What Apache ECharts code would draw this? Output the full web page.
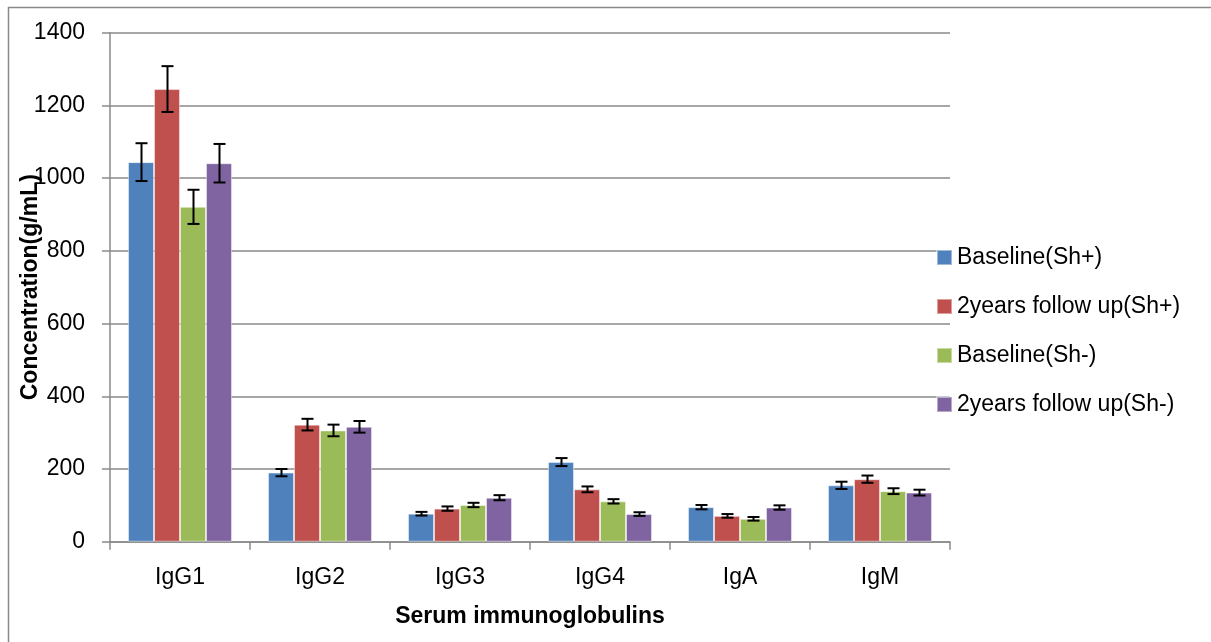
<!DOCTYPE html>
<html>
<head>
<meta charset="utf-8">
<script src="https://cdn.jsdelivr.net/npm/echarts@6/dist/echarts.min.js"></script>
<style>
html,body{margin:0;padding:0;background:#fff;}
#chart{width:1211px;height:642px;}
</style>
</head>
<body>
<div id="chart"></div>
<script>
var categories = ['IgG1', 'IgG2', 'IgG3', 'IgG4', 'IgA', 'IgM'];
var seriesNames = ['Baseline(Sh+)', '2years follow up(Sh+)', 'Baseline(Sh-)', '2years follow up(Sh-)'];
var baselineShPlus = [1044, 190, 77, 219, 95, 155];
var followUpShPlus = [1245, 322, 91, 144, 71, 172];
var baselineShMinus = [921, 306, 101, 111, 63, 139];
var followUpShMinus = [1041, 316, 121, 76, 94, 135];
var errBaselineShPlus = [52, 10, 5, 11, 6, 10];
var errFollowUpShPlus = [63, 16, 6, 8, 5, 10];
var errBaselineShMinus = [47, 16, 6, 6, 5, 8];
var errFollowUpShMinus = [53, 16, 7, 5, 6, 8];
var yTicks = [0, 200, 400, 600, 800, 1000, 1200, 1400];

var colors = ['#4F81BD', '#C0504D', '#9BBB59', '#8064A2'];
var values = [baselineShPlus, followUpShPlus, baselineShMinus, followUpShMinus];
var errors = [errBaselineShPlus, errFollowUpShPlus, errBaselineShMinus, errFollowUpShMinus];
var BAR_W = 26;
var FONT = 'Liberation Sans, Arial, sans-serif';
var FS = 23;

var series = [];
values.forEach(function (vals, i) {
  series.push({
    name: seriesNames[i],
    type: 'bar',
    data: vals,
    barWidth: BAR_W,
    barGap: '0%',
    itemStyle: { color: colors[i], borderColor: 'rgba(255,255,255,0.45)', borderWidth: 1 },
    z: 2
  });
});
values.forEach(function (vals, i) {
  var data = vals.map(function (v, k) { return [k, v - errors[i][k], v + errors[i][k]]; });
  var offset = (i - 1.5) * BAR_W;
  series.push({
    name: 'err' + i,
    type: 'custom',
    data: data,
    z: 5,
    silent: true,
    encode: { x: 0, y: [1, 2] },
    renderItem: function (params, api) {
      var lo = api.coord([api.value(0), api.value(1)]);
      var hi = api.coord([api.value(0), api.value(2)]);
      var x = Math.round(lo[0] + offset) + 0.5;
      var cap = 6;
      var st = { stroke: '#000', lineWidth: 2, fill: null };
      return {
        type: 'group',
        children: [
          { type: 'line', shape: { x1: x, y1: hi[1], x2: x, y2: lo[1] }, style: st },
          { type: 'line', shape: { x1: x - cap, y1: hi[1], x2: x + cap, y2: hi[1] }, style: st },
          { type: 'line', shape: { x1: x - cap, y1: lo[1], x2: x + cap, y2: lo[1] }, style: st }
        ]
      };
    }
  });
});

var chart = echarts.init(document.getElementById('chart'), null, { renderer: 'canvas' });
chart.setOption({
  animation: false,
  backgroundColor: '#fff',
  graphic: [{
    type: 'rect',
    shape: { x: 8.5, y: 7.5, width: 1400, height: 900 },
    style: { fill: null, stroke: '#8a8a8a', lineWidth: 1.5 },
    silent: true,
    z: -10
  }],
  grid: { left: 110, right: 261, top: 32.7, bottom: 100.3, containLabel: false, outerBoundsMode: 'none' },
  legend: {
    data: seriesNames,
    orient: 'vertical',
    left: 931,
    top: 241,
    itemWidth: 15,
    itemHeight: 15,
    itemGap: 26,
    icon: 'rect',
    textStyle: { fontFamily: FONT, fontSize: FS, color: '#000', lineHeight: 23 }
  },
  xAxis: {
    type: 'category',
    data: categories,
    axisLine: { lineStyle: { color: '#8a8a8a', width: 1.5 } },
    axisTick: { show: true, length: 8, alignWithLabel: false, interval: 0, lineStyle: { color: '#8a8a8a', width: 1.5 } },
    axisLabel: { fontFamily: FONT, fontSize: FS, color: '#000', margin: 24, interval: 0 },
    name: 'Serum immunoglobulins',
    nameLocation: 'middle',
    nameGap: 63,
    nameMoveOverlap: false,
    nameTextStyle: { fontFamily: FONT, fontSize: FS, fontWeight: 'bold', color: '#000' }
  },
  yAxis: {
    type: 'value',
    min: yTicks[0],
    max: yTicks[yTicks.length - 1],
    interval: yTicks[1] - yTicks[0],
    axisLine: { show: true, lineStyle: { color: '#8a8a8a', width: 1.5 } },
    axisTick: { show: true, length: 8, lineStyle: { color: '#8a8a8a', width: 1.5 } },
    splitLine: { show: true, lineStyle: { color: '#8a8a8a', width: 1.5 } },
    axisLabel: { fontFamily: FONT, fontSize: FS, color: '#000', margin: 25, formatter: function (v) { return String(v); } },
    name: 'Concentration(g/mL)',
    nameLocation: 'middle',
    nameRotate: 90,
    nameGap: 68,
    nameMoveOverlap: false,
    nameTextStyle: { fontFamily: FONT, fontSize: FS, fontWeight: 'bold', color: '#000' }
  },
  series: series
});
</script>
</body>
</html>
